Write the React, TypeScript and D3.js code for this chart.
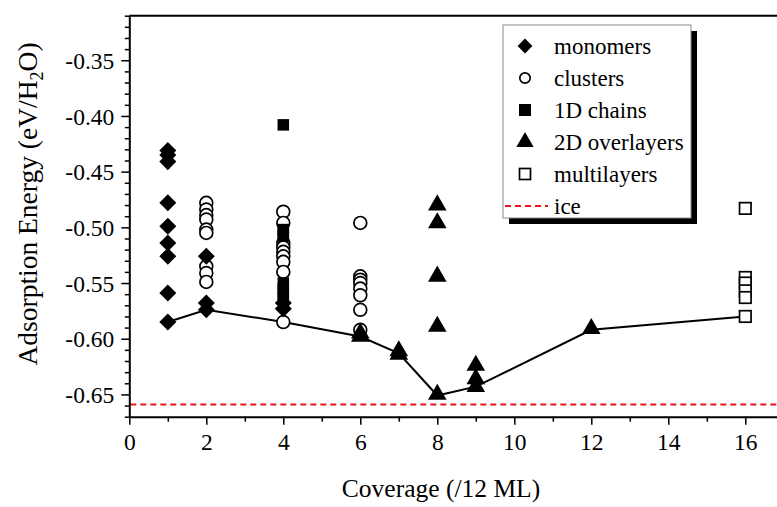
import React, { useEffect, useRef } from "react";
import * as d3 from "d3";

// Data: [coverage, energy]
const monomers: [number, number][] = [
  [1, -0.431], [1, -0.435], [1, -0.441], [1, -0.478], [1, -0.499], [1, -0.514],
  [1, -0.526], [1, -0.559], [1, -0.585],
  [2, -0.526], [2, -0.568], [2, -0.574],
  [4, -0.568], [4, -0.573],
];
const clusters: [number, number][] = [
  [2, -0.478], [2, -0.484], [2, -0.489], [2, -0.493], [2, -0.502], [2, -0.505],
  [2, -0.535], [2, -0.541], [2, -0.549],
  [4, -0.486], [4, -0.496], [4, -0.514], [4, -0.518], [4, -0.522], [4, -0.526],
  [4, -0.531], [4, -0.540], [4, -0.585],
  [6, -0.496], [6, -0.544], [6, -0.547], [6, -0.550], [6, -0.555], [6, -0.561],
  [6, -0.574], [6, -0.592],
];
const chains: [number, number][] = [
  [4, -0.408], [4, -0.502], [4, -0.505], [4, -0.508], [4, -0.550], [4, -0.555],
  [4, -0.560], [4, -0.564],
];
const overlayers: [number, number][] = [
  [6, -0.595], [6, -0.598], [7, -0.611], [7, -0.614],
  [8, -0.480], [8, -0.496], [8, -0.544], [8, -0.589], [8, -0.650],
  [9, -0.624], [9, -0.636], [9, -0.643], [12, -0.591],
];
const multilayers: [number, number][] = [
  [16, -0.483], [16, -0.545], [16, -0.550], [16, -0.557], [16, -0.563], [16, -0.580],
];
// lowest-energy path
const minLine: [number, number][] = [
  [1, -0.585], [2, -0.574], [4, -0.585], [6, -0.598], [7, -0.613],
  [8, -0.651], [9, -0.643], [12, -0.592], [16, -0.580],
];
const iceEnergy = -0.659;

const xTicks = d3.range(0, 17, 1);
const yTicks = d3.range(-0.67, -0.305, 0.01).map((v) => +v.toFixed(2));
const legendLabels = ["monomers", "clusters", "1D chains", "2D overlayers", "multilayers", "ice"];

const FONT = "Liberation Serif";

const App = () => {
  const svgRef = useRef<SVGSVGElement>(null);

  useEffect(() => {
    const width = 777;
    const height = 507;
    const left = 129.3;
    const top = 15.7;
    const bottom = 416.7;

    const xScale = d3.scaleLinear().domain([0, 17]).range([left, left + 17 * 38.5]);
    const yScale = d3.scaleLinear().domain([-0.67, -0.31]).range([bottom, top]);

    const svg = d3.select(svgRef.current);
    svg.selectAll("*").remove();
    svg.attr("width", width).attr("height", height).attr("font-family", FONT);

    svg.append("rect").attr("width", width).attr("height", height).attr("fill", "#fff");

    // ice reference line
    svg
      .append("line")
      .attr("x1", left + 1)
      .attr("x2", width)
      .attr("y1", yScale(iceEnergy))
      .attr("y2", yScale(iceEnergy))
      .attr("stroke", "#e8151b")
      .attr("stroke-width", 2)
      .attr("stroke-dasharray", "6,4");

    // minimum energy line
    const line = d3
      .line<[number, number]>()
      .x((d) => xScale(d[0]))
      .y((d) => yScale(d[1]));
    svg
      .append("path")
      .attr("d", line(minLine))
      .attr("fill", "none")
      .attr("stroke", "#000")
      .attr("stroke-width", 2);

    // symbols
    const diamond = d3.symbol().type(d3.symbolDiamond2).size(185);
    const circleR = 6.4;
    const square = 11.5;
    const tri = d3.symbol().type(d3.symbolTriangle).size(150);

    svg
      .append("g")
      .selectAll("circle")
      .data(clusters)
      .enter()
      .append("circle")
      .attr("cx", (d) => xScale(d[0]))
      .attr("cy", (d) => yScale(d[1]))
      .attr("r", circleR)
      .attr("fill", "#fff")
      .attr("stroke", "#000")
      .attr("stroke-width", 1.7);

    svg
      .append("g")
      .selectAll("rect")
      .data(chains)
      .enter()
      .append("rect")
      .attr("x", (d) => xScale(d[0]) - square / 2)
      .attr("y", (d) => yScale(d[1]) - square / 2)
      .attr("width", square)
      .attr("height", square)
      .attr("fill", "#000");

    svg
      .append("g")
      .selectAll("path")
      .data(monomers)
      .enter()
      .append("path")
      .attr("d", diamond()!)
      .attr("transform", (d) => `translate(${xScale(d[0])},${yScale(d[1])})`)
      .attr("fill", "#000");

    svg
      .append("g")
      .selectAll("path")
      .data(overlayers)
      .enter()
      .append("path")
      .attr("d", tri()!)
      .attr("transform", (d) => `translate(${xScale(d[0])},${yScale(d[1])})`)
      .attr("fill", "#000");

    svg
      .append("g")
      .selectAll("rect")
      .data(multilayers)
      .enter()
      .append("rect")
      .attr("x", (d) => xScale(d[0]) - square / 2)
      .attr("y", (d) => yScale(d[1]) - square / 2)
      .attr("width", square)
      .attr("height", square)
      .attr("fill", "#fff")
      .attr("stroke", "#000")
      .attr("stroke-width", 1.7);

    // frame (top + left)
    svg
      .append("line")
      .attr("x1", left)
      .attr("x2", width)
      .attr("y1", top)
      .attr("y2", top)
      .attr("stroke", "#000")
      .attr("stroke-width", 2);

    // x axis
    const xAxis = d3
      .axisBottom(xScale)
      .tickValues(xTicks)
      .tickSize(0)
      .tickFormat(() => "");
    const gx = svg.append("g").attr("transform", `translate(0,${bottom})`).call(xAxis);
    gx.attr("font-family", FONT).attr("font-size", 23.5);
    gx.select(".domain").attr("stroke-width", 2);
    gx.selectAll(".tick line")
      .attr("y2", (d: any) => (d % 2 === 0 ? 8 : 5))
      .attr("stroke-width", 1.5);
    gx.selectAll(".tick")
      .filter((d: any) => d % 2 === 0)
      .append("text")
      .attr("y", 33)
      .attr("fill", "#000")
      .attr("text-anchor", "middle")
      .text((d: any) => d);

    // y axis
    const yAxis = d3.axisLeft(yScale).tickValues(yTicks).tickSize(0).tickFormat(() => "");
    const gy = svg.append("g").attr("transform", `translate(${left},0)`).call(yAxis);
    gy.attr("font-family", FONT).attr("font-size", 23.5);
    gy.select(".domain").attr("stroke-width", 2);
    const isMajor = (d: number) => Math.abs(Math.round(d * 100) % 5) === 0;
    gy.selectAll(".tick line")
      .attr("x2", (d: any) => (isMajor(d) ? -8 : -4.5))
      .attr("stroke-width", 1.5);
    gy.selectAll(".tick")
      .filter((d: any) => isMajor(d) && d >= -0.66 && d <= -0.34)
      .append("text")
      .attr("x", -15)
      .attr("dy", "0.35em")
      .attr("fill", "#000")
      .attr("text-anchor", "end")
      .text((d: any) => d.toFixed(2));

    // axis titles
    svg
      .append("text")
      .attr("x", 441)
      .attr("y", 497)
      .attr("text-anchor", "middle")
      .attr("font-size", 25.5)
      .text("Coverage (/12 ML)");

    const yt = svg
      .append("text")
      .attr("transform", `translate(37,204) rotate(-90)`)
      .attr("text-anchor", "middle")
      .attr("font-size", 27.5);
    yt.append("tspan").text("Adsorption Energy (eV/H");
    yt.append("tspan").attr("dy", 6).attr("font-size", 18).text("2");
    yt.append("tspan").attr("dy", -6).text("O)");

    // legend
    const lx = 503;
    const ly = 25;
    const lw = 188;
    const lh = 193;
    svg
      .append("rect")
      .attr("x", lx + 6)
      .attr("y", ly + 6)
      .attr("width", lw)
      .attr("height", lh)
      .attr("fill", "#000");
    svg
      .append("rect")
      .attr("x", lx)
      .attr("y", ly)
      .attr("width", lw)
      .attr("height", lh)
      .attr("fill", "#fff")
      .attr("stroke", "#888")
      .attr("stroke-width", 1);

    const rowY = (i: number) => ly + 21 + i * 32;
    const symX = lx + 22;
    legendLabels.forEach((label, i) => {
      const cy = rowY(i);
      if (i === 0) {
        svg.append("path").attr("d", d3.symbol().type(d3.symbolDiamond2).size(140)()!)
          .attr("transform", `translate(${symX},${cy})`).attr("fill", "#000");
      } else if (i === 1) {
        svg.append("circle").attr("cx", symX).attr("cy", cy).attr("r", 5.2)
          .attr("fill", "#fff").attr("stroke", "#000").attr("stroke-width", 1.7);
      } else if (i === 2) {
        svg.append("rect").attr("x", symX - 6).attr("y", cy - 6).attr("width", 12).attr("height", 12)
          .attr("fill", "#000");
      } else if (i === 3) {
        svg.append("path").attr("d", d3.symbol().type(d3.symbolTriangle).size(130)()!)
          .attr("transform", `translate(${symX},${cy})`).attr("fill", "#000");
      } else if (i === 4) {
        svg.append("rect").attr("x", symX - 5.5).attr("y", cy - 5.5).attr("width", 11).attr("height", 11)
          .attr("fill", "#fff").attr("stroke", "#000").attr("stroke-width", 1.7);
      } else {
        svg.append("line").attr("x1", lx + 2).attr("x2", lx + 45).attr("y1", cy).attr("y2", cy)
          .attr("stroke", "#e8151b").attr("stroke-width", 2).attr("stroke-dasharray", "6,4");
      }
      svg
        .append("text")
        .attr("x", lx + 51)
        .attr("y", cy)
        .attr("dy", "0.33em")
        .attr("font-size", 23)
        .text(label);
    });
  }, []);

  return (
    <svg ref={svgRef} style={{ position: "absolute", left: 0, top: 0, display: "block" }}></svg>
  );
};

export default App;
